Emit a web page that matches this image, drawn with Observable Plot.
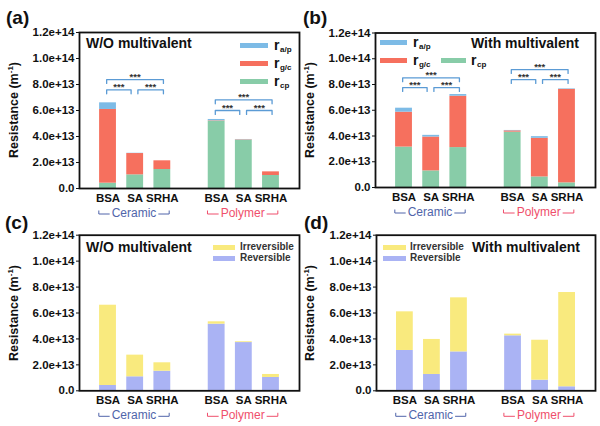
<!DOCTYPE html>
<html><head><meta charset="utf-8">
<script src="https://cdn.jsdelivr.net/npm/d3@7"></script>
<script src="https://cdn.jsdelivr.net/npm/@observablehq/plot@0.6"></script>
<style>
body{margin:0;background:#fff;font-family:"Liberation Sans",Arial,sans-serif;}
#root{position:relative;width:600px;height:426px;overflow:hidden;background:#fff;}
.panel{position:absolute;width:300px;height:213px;}
.panel svg{position:absolute;left:0;top:0;overflow:visible;}
.ov{position:absolute;white-space:nowrap;font-weight:bold;color:#111;line-height:1;}
.sw{position:absolute;}
.sub{position:relative;top:2px;font-size:8px;margin-left:0.5px;}
.ylab{position:absolute;white-space:nowrap;font-weight:bold;font-size:12.5px;line-height:1;color:#111;transform:translate(-50%,-50%) rotate(-90deg);}
.ylab sup{font-size:8px;vertical-align:5px;line-height:0;}
</style></head><body><div id="root"></div>
<script>
// ---------- data ----------
const categories = ["BSA", "SA", "SRHA"];
const groups = ["Ceramic", "Polymer"];
const yTicks = [0, 2e13, 4e13, 6e13, 8e13, 1e14, 1.2e14];
// values in units of 1e13 m^-1, order: Ceramic BSA, SA, SRHA, Polymer BSA, SA, SRHA
// (a) W/O multivalent
const woRcp = [0.41, 1.05, 1.46, 5.18, 3.72, 1.00];
const woRgc = [5.67, 1.64, 0.67, 0.03, 0.03, 0.28];
const woRap = [0.51, 0.02, 0.00, 0.10, 0.02, 0.00];
// (b) With multivalent
const wRcp = [3.14, 1.29, 3.10, 4.30, 0.82, 0.36];
const wRgc = [2.71, 2.63, 3.99, 0.10, 3.00, 7.26];
const wRap = [0.31, 0.13, 0.13, 0.03, 0.13, 0.04];
// (c) W/O multivalent
const woReversible = [0.41, 1.08, 1.51, 5.14, 3.72, 1.03];
const woIrreversible = [6.19, 1.67, 0.65, 0.18, 0.06, 0.23];
// (d) With multivalent
const wReversible = [3.11, 1.26, 3.00, 4.24, 0.82, 0.31];
const wIrreversible = [2.98, 2.70, 4.17, 0.13, 3.08, 7.27];
// significance brackets: pairs (category index) and bracket levels (1e13)
const sigPairs = [[0, 2], [0, 1], [1, 2]];
const sigLabel = "***";
const woSigLevels = {Ceramic: [8.38, 7.59, 7.59], Polymer: [6.82, 6.00, 6.00]};
const wSigLevels = {Ceramic: [8.52, 7.76, 7.76], Polymer: [9.16, 8.38, 8.38]};

// ---------- styles ----------
const FONT = "'Liberation Sans', Arial, sans-serif";
const C = {rap: "#7dbbe6", rgc: "#f6705e", rcp: "#88cca8", irr: "#f9ea7e", rev: "#aab3f4",
           br: "#5b9bd5", ceramic: "#5065aa", polymer: "#ef4f6c"};
const groupColor = {Ceramic: C.ceramic, Polymer: C.polymer};
const BW = 0.31;
const NS = "http://www.w3.org/2000/svg";
const fmtY = v => v === 0 ? "0.0" : d3.format(".1e")(v);
const ctx = document.createElement("canvas").getContext("2d");
function textWidth(t, font){ ctx.font = font; return ctx.measureText(t).width; }

function buildRows(stacks){
  const rows = [];
  groups.forEach((g, gi) => categories.forEach((c, ci) => {
    const k = gi * categories.length + ci; let base = 0;
    for (const s of stacks) {
      const v = s.values[k] * 1e13;
      rows.push({pos: gi * 4 + ci, series: s.name, y1: base, y2: base + v});
      base += v;
    }
  }));
  return rows;
}
function buildSig(levels){
  const pts = [], labels = [];
  groups.forEach((g, gi) => sigPairs.forEach(([i, j], pi) => {
    const lvl = levels[g][pi] * 1e13, id = g + pi;
    const xa = gi * 4 + i + (i === 0 ? -0.05 : 0.1);
    const xb = gi * 4 + j + (j === 2 ? 0.04 : -0.15);
    pts.push({id, x: xa, y: lvl - 0.3e13}, {id, x: xa, y: lvl}, {id, x: xb, y: lvl}, {id, x: xb, y: lvl - 0.3e13});
    labels.push({x: (xa + xb) / 2, y: lvl, text: sigLabel});
  }));
  return {pts, labels};
}
function groupMark(index, scales, values, dims){
  const x = scales.x;
  const yb = dims.height - dims.marginBottom;
  const g = document.createElementNS(NS, "g");
  const font = "12px 'Liberation Sans', Arial, sans-serif";
  groups.forEach((gn, gi) => {
    const x1 = x(gi * 4 - 0.32), x2 = x(gi * 4 + 2 + 0.27);
    const xm = (x1 + x2) / 2, tw = textWidth(gn, font);
    const ly = yb + 26;
    const p = document.createElementNS(NS, "path");
    p.setAttribute("d", `M${x1},${ly - 3.5}V${ly}H${xm - tw / 2 - 2}M${xm + tw / 2 + 2},${ly}H${x2}V${ly - 3.5}`);
    p.setAttribute("fill", "none"); p.setAttribute("stroke", groupColor[gn]); p.setAttribute("stroke-width", "1");
    g.appendChild(p);
    const t = document.createElementNS(NS, "text");
    t.setAttribute("x", xm); t.setAttribute("y", yb + 28.5);
    t.setAttribute("text-anchor", "middle"); t.setAttribute("fill", groupColor[gn]);
    t.setAttribute("style", `font-size:12px;font-weight:normal;font-family:${FONT}`);
    t.textContent = gn;
    g.appendChild(t);
  });
  return g;
}

function makePanel(cfg){
  const root = document.getElementById("root");
  const div = document.createElement("div");
  div.className = "panel";
  div.style.left = cfg.left + "px"; div.style.top = cfg.top + "px";
  root.appendChild(div);
  const rows = buildRows(cfg.stacks);
  const marks = [
    Plot.rect(rows, {x1: d => d.pos - BW, x2: d => d.pos + BW, y1: "y1", y2: "y2", fill: "series"}),
    Plot.axisY({ticks: yTicks, tickFormat: fmtY, tickSize: 3, tickPadding: 2, fontSize: 11.5, fontWeight: "bold", label: null}),
    Plot.axisX({ticks: [0, 1, 2, 4, 5, 6], tickFormat: p => categories[p % 4], tickSize: 0, tickPadding: 5, fontSize: 11.5, fontWeight: "bold", label: null}),
    Plot.frame({stroke: "#111", strokeWidth: 1.8}),
    groupMark
  ];
  if (cfg.sig) {
    const s = buildSig(cfg.sig);
    marks.push(Plot.line(s.pts, {x: "x", y: "y", z: "id", stroke: C.br, strokeWidth: 1.3}));
    marks.push(Plot.text(s.labels, {x: "x", y: "y", text: "text", dy: -2.5, fontSize: 9.5, fontWeight: "bold", fill: "#333"}));
  }
  const svg = Plot.plot({
    width: 300, height: 213,
    marginLeft: cfg.mL, marginRight: cfg.mR, marginTop: cfg.mT, marginBottom: cfg.mB,
    x: {domain: [-1.05, 7.05]},
    y: {domain: [0, 1.2e14]},
    color: {domain: cfg.stacks.map(s => s.name), range: cfg.stacks.map(s => s.color)},
    style: {background: "transparent", fontFamily: FONT, fontWeight: "bold", color: "#111", overflow: "visible"},
    marks
  });
  div.appendChild(svg);
  const add = (html, left, cy, fs, extra = "") => {
    const e = document.createElement("div");
    e.className = "ov"; e.innerHTML = html;
    e.style.cssText += `left:${left}px;top:${cy - 0.49 * fs}px;font-size:${fs}px;${extra}`;
    div.appendChild(e); return e;
  };
  const sw = (x1, x2, cy, h, color) => {
    const e = document.createElement("div");
    e.className = "sw";
    e.style.cssText = `left:${x1}px;top:${cy - h / 2}px;width:${x2 - x1}px;height:${h}px;background:${color};`;
    div.appendChild(e);
  };
  add(cfg.letter, cfg.letterX, cfg.letterCy + 2, 19);
  add(cfg.title, cfg.titleX, cfg.titleCy, 14);
  const yl = document.createElement("div");
  yl.className = "ylab"; yl.innerHTML = "Resistance (m<sup>-1</sup>)";
  const fy = cfg.mT + (213 - cfg.mT - cfg.mB) / 2;
  yl.style.left = cfg.ylabX + "px"; yl.style.top = fy + "px";
  div.appendChild(yl);
  for (const it of cfg.legend) {
    sw(it.x1, it.x2, it.cy, it.h, it.color);
    if (it.kind === "r") add(`r<span class="sub">${it.sub}</span>`, it.tx, it.cy - 1, 14);
    else add(it.label, it.tx, it.cy, 10, "color:#333;");
  }
}

const legendA = [
  {x1: 240, x2: 268, cy: 45.8, h: 5, color: C.rap, kind: "r", sub: "a/p", tx: 274},
  {x1: 240, x2: 268, cy: 63.8, h: 5, color: C.rgc, kind: "r", sub: "g/c", tx: 274},
  {x1: 240, x2: 268, cy: 81.8, h: 5, color: C.rcp, kind: "r", sub: "cp", tx: 274}
];
const legendB = [
  {x1: 80, x2: 107, cy: 42.5, h: 5, color: C.rap, kind: "r", sub: "a/p", tx: 113},
  {x1: 80, x2: 107, cy: 60.8, h: 5, color: C.rgc, kind: "r", sub: "g/c", tx: 113},
  {x1: 141, x2: 166, cy: 60.8, h: 5, color: C.rcp, kind: "r", sub: "cp", tx: 171}
];
const legendC = [
  {x1: 213, x2: 235, cy: 34.2, h: 5, color: C.irr, kind: "t", label: "Irreversible", tx: 240},
  {x1: 213, x2: 235, cy: 45.2, h: 5, color: C.rev, kind: "t", label: "Reversible", tx: 240}
];
const legendD = [
  {x1: 83, x2: 106, cy: 34.3, h: 5, color: C.irr, kind: "t", label: "Irreversible", tx: 110},
  {x1: 83, x2: 106, cy: 45.2, h: 5, color: C.rev, kind: "t", label: "Reversible", tx: 110}
];

makePanel({left: 0, top: 0, mL: 79, mR: 1, mT: 32, mB: 25,
  stacks: [{name: "rcp", values: woRcp, color: C.rcp}, {name: "rgc", values: woRgc, color: C.rgc}, {name: "rap", values: woRap, color: C.rap}],
  sig: woSigLevels, letter: "(a)", letterX: 6, letterCy: 15, title: "W/O multivalent", titleX: 86, titleCy: 43,
  ylabX: 14, legend: legendA});
makePanel({left: 300, top: 0, mL: 75, mR: 5, mT: 32.5, mB: 26,
  stacks: [{name: "rcp", values: wRcp, color: C.rcp}, {name: "rgc", values: wRgc, color: C.rgc}, {name: "rap", values: wRap, color: C.rap}],
  sig: wSigLevels, letter: "(b)", letterX: 3, letterCy: 15, title: "With multivalent", titleX: 171, titleCy: 43,
  ylabX: 10, legend: legendB});
makePanel({left: 0, top: 213, mL: 79, mR: 1, mT: 21.7, mB: 35.7,
  stacks: [{name: "rev", values: woReversible, color: C.rev}, {name: "irr", values: woIrreversible, color: C.irr}],
  sig: null, letter: "(c)", letterX: 5, letterCy: 7, title: "W/O multivalent", titleX: 86, titleCy: 33.5,
  ylabX: 14, legend: legendC});
makePanel({left: 300, top: 213, mL: 76, mR: 5, mT: 21.7, mB: 35.7,
  stacks: [{name: "rev", values: wReversible, color: C.rev}, {name: "irr", values: wIrreversible, color: C.irr}],
  sig: null, letter: "(d)", letterX: 4, letterCy: 7, title: "With multivalent", titleX: 172, titleCy: 34,
  ylabX: 10, legend: legendD});
</script></body></html>
